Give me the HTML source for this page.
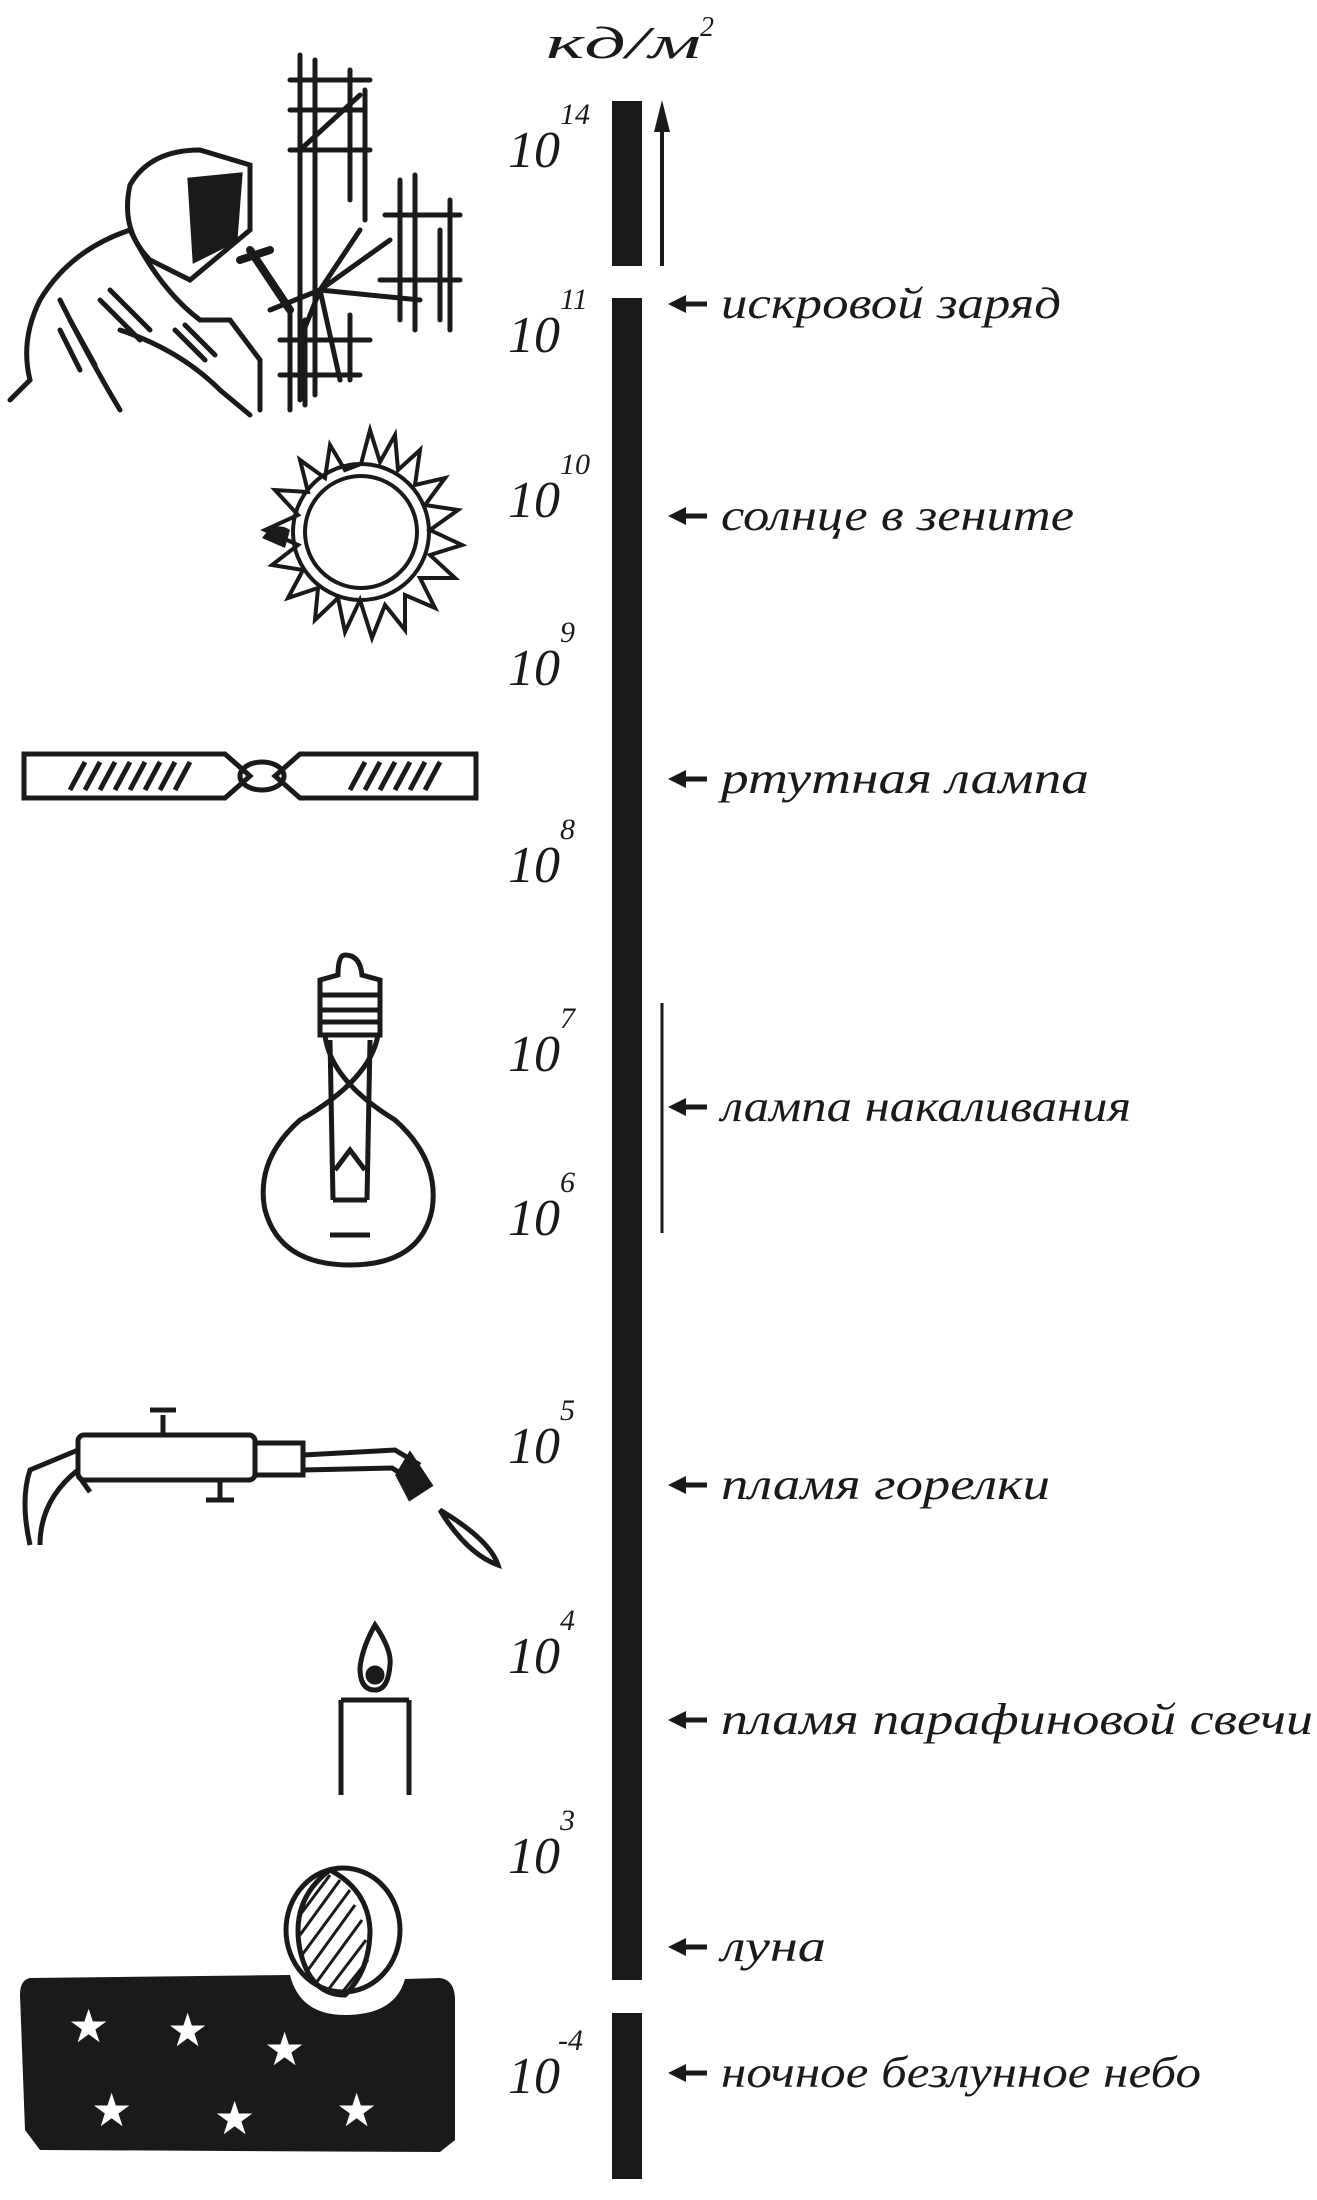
<!DOCTYPE html>
<html><head><meta charset="utf-8"><style>
html,body{margin:0;padding:0;background:#fff}
svg{display:block}
text{font-family:"Liberation Serif",serif;font-style:italic;fill:#1a1a1a}
</style></head><body>
<svg width="1317" height="2200" viewBox="0 0 1317 2200" xmlns="http://www.w3.org/2000/svg">
<!-- unit -->
<text x="546" y="58" font-size="46" textLength="155" lengthAdjust="spacingAndGlyphs">кд/м</text>
<text x="700" y="36" font-size="28">2</text>
<!-- bars -->
<rect x="612" y="101" width="30" height="165" fill="#1a1a1a"/>
<rect x="612" y="298" width="30" height="1682" fill="#1a1a1a"/>
<rect x="612" y="2013" width="30" height="166" fill="#1a1a1a"/>
<!-- up arrow -->
<line x1="662" y1="266" x2="662" y2="130" stroke="#1a1a1a" stroke-width="4"/>
<path d="M654,132 L662,100 L670,132 Z" fill="#1a1a1a"/>
<!-- bracket line -->
<line x1="662" y1="1003" x2="662" y2="1233" stroke="#1a1a1a" stroke-width="3"/>
<!-- exponents -->
<g font-size="52">
<text x="508" y="167">10</text><text x="560" y="124" font-size="30">14</text>
<text x="508" y="352">10</text><text x="560" y="309" font-size="30">11</text>
<text x="508" y="517">10</text><text x="560" y="474" font-size="30">10</text>
<text x="508" y="685">10</text><text x="560" y="642" font-size="30">9</text>
<text x="508" y="882">10</text><text x="560" y="839" font-size="30">8</text>
<text x="508" y="1071">10</text><text x="560" y="1028" font-size="30">7</text>
<text x="508" y="1235">10</text><text x="560" y="1192" font-size="30">6</text>
<text x="508" y="1463">10</text><text x="560" y="1420" font-size="30">5</text>
<text x="508" y="1673">10</text><text x="560" y="1630" font-size="30">4</text>
<text x="508" y="1873">10</text><text x="560" y="1830" font-size="30">3</text>
<text x="508" y="2093">10</text><text x="558" y="2050" font-size="30">-4</text>
</g>
<!-- arrows + labels -->
<g stroke="#1a1a1a" stroke-width="5">
<line x1="707" y1="304" x2="682" y2="304"/><line x1="707" y1="516" x2="682" y2="516"/>
<line x1="707" y1="779" x2="682" y2="779"/><line x1="707" y1="1107" x2="682" y2="1107"/>
<line x1="707" y1="1485" x2="682" y2="1485"/><line x1="707" y1="1720" x2="682" y2="1720"/>
<line x1="707" y1="1947" x2="682" y2="1947"/><line x1="707" y1="2073" x2="682" y2="2073"/>
</g>
<g fill="#1a1a1a">
<path d="M668,304 L686,295 L686,313Z"/><path d="M668,516 L686,507 L686,525Z"/>
<path d="M668,779 L686,770 L686,788Z"/><path d="M668,1107 L686,1098 L686,1116Z"/>
<path d="M668,1485 L686,1476 L686,1494Z"/><path d="M668,1720 L686,1711 L686,1729Z"/>
<path d="M668,1947 L686,1938 L686,1956Z"/><path d="M668,2073 L686,2064 L686,2082Z"/>
</g>
<g font-size="44">
<text x="721" y="318" textLength="340" lengthAdjust="spacingAndGlyphs">искровой заряд</text>
<text x="721" y="530" textLength="353" lengthAdjust="spacingAndGlyphs">солнце в зените</text>
<text x="721" y="793" textLength="368" lengthAdjust="spacingAndGlyphs">ртутная лампа</text>
<text x="721" y="1121" textLength="410" lengthAdjust="spacingAndGlyphs">лампа накаливания</text>
<text x="721" y="1499" textLength="329" lengthAdjust="spacingAndGlyphs">пламя горелки</text>
<text x="721" y="1734" textLength="592" lengthAdjust="spacingAndGlyphs">пламя парафиновой свечи</text>
<text x="721" y="1961" textLength="105" lengthAdjust="spacingAndGlyphs">луна</text>
<text x="721" y="2087" textLength="480" lengthAdjust="spacingAndGlyphs">ночное безлунное небо</text>
</g>
<!-- welder (rough) -->
<g stroke="#1a1a1a" stroke-width="5" fill="none" stroke-linecap="round">
<path d="M300,55 V400 M315,60 V395 M290,80 H370 M290,150 H370 M290,110 H365 M350,70 V200 M365,90 V220 M300,150 L360,95"/>
<path d="M400,180 V320 M415,175 V330 M385,215 H460 M380,280 H460 M450,200 V330 M440,230 V320"/>
<path d="M290,310 V410 M305,320 V405 M280,340 H370 M280,375 H360 M350,315 V380"/>
<path d="M320,290 L390,240 M320,290 L300,340 M320,290 L420,300 M320,290 L340,380 M320,290 L360,230 M320,290 L270,310"/>
<path d="M130,185 Q150,150 200,150 L250,165 L250,230 L190,280 L150,260 Q120,230 130,185Z"/>
<path d="M190,180 L240,175 L235,240 L195,260Z" fill="#1a1a1a"/>
<path d="M130,230 Q70,250 40,300 Q20,340 30,380 L10,400 M130,230 Q160,290 200,320 L230,320 L260,360 L260,410 M60,300 Q90,360 120,410 M120,330 Q180,350 220,390 L250,415"/>
<path d="M250,250 L290,310 M240,260 L270,250" stroke-width="8"/>
<path d="M100,300 L140,340 M110,290 L150,330 M60,330 L80,370 M70,320 L95,365 M175,330 L205,360 M185,325 L215,355"/>
</g>
<!-- sun -->
<g stroke="#1a1a1a" stroke-width="4" fill="none">
<circle cx="361" cy="532" r="56"/>
<circle cx="361" cy="532" r="68"/>
<path d="M361,464 L370,430 L380,462 L395,435 L398,470 L420,450 L415,485 L445,478 L425,505 L458,510 L430,530 L462,545 L430,555 L455,578 L420,578 L435,608 L405,595 L405,630 L385,605 L372,638 L360,600 L345,632 L338,598 L315,620 L318,588 L288,598 L303,570 L272,565 L298,545 L265,530 L298,515 L275,490 L308,492 L300,460 L325,478 L330,445 L345,470 Z"/>
</g>
<path d="M262,538 Q275,520 290,530 L285,548Z" fill="#1a1a1a"/>
<!-- mercury lamp -->
<g stroke="#1a1a1a" stroke-width="5" fill="none">
<path d="M24,754 H225 L250,776 L225,798 H24 Z"/>
<path d="M476,754 H300 L275,776 L300,798 H476 Z"/>
<ellipse cx="262" cy="776" rx="22" ry="14"/>
</g>
<g stroke="#1a1a1a" stroke-width="5">
<path d="M70,790 L85,762 M85,790 L100,762 M100,790 L115,762 M115,790 L130,762 M130,790 L145,762 M145,790 L160,762 M160,790 L175,762 M175,790 L190,762"/>
<path d="M350,790 L365,762 M365,790 L380,762 M380,790 L395,762 M395,790 L410,762 M410,790 L425,762 M425,790 L440,762"/>
</g>
<!-- bulb -->
<g stroke="#1a1a1a" stroke-width="5" fill="none">
<path d="M345,955 Q360,955 362,975 L380,980 V1035 L320,1035 V980 L338,975 Q338,955 345,955Z"/>
<path d="M320,995 H382 M320,1010 H382 M320,1022 H382"/>
<path d="M325,1035 Q330,1080 395,1120 Q440,1160 432,1210 Q420,1265 350,1265 Q280,1265 265,1210 Q255,1160 300,1120 Q370,1080 378,1035"/>
<path d="M330,1040 L333,1200 M370,1040 L367,1200 M333,1200 H367 M335,1170 L350,1150 L365,1170 M330,1235 L370,1235"/>
</g>
<!-- torch -->
<g stroke="#1a1a1a" stroke-width="5" fill="none">
<rect x="78" y="1435" width="177" height="45" rx="6"/>
<rect x="255" y="1443" width="48" height="32"/>
<path d="M303,1455 L395,1450 L420,1465 M303,1470 L392,1468 L408,1478"/>
<path d="M410,1455 L430,1485 L410,1498 L398,1475Z" fill="#1a1a1a"/>
<path d="M440,1510 Q490,1540 498,1565 Q470,1555 445,1518Z"/>
<path d="M163,1435 V1415 M150,1410 H176 M220,1480 V1498 M206,1500 H234"/>
<path d="M78,1450 L30,1470 Q20,1500 30,1545 M78,1470 Q40,1500 40,1545 M78,1475 L90,1492"/>
</g>
<!-- candle -->
<g stroke="#1a1a1a" stroke-width="5" fill="none">
<path d="M341,1700 V1795 M409,1700 V1795 M341,1700 H409"/>
<path d="M375,1625 Q392,1650 390,1665 Q388,1690 375,1690 Q360,1690 360,1668 Q362,1648 375,1625Z"/>
<circle cx="375" cy="1675" r="7" fill="#1a1a1a"/>
</g>
<!-- night sky -->
<path d="M30,1978 Q20,1980 20,1995 L25,2130 L40,2150 L440,2152 L455,2140 L455,2000 Q455,1980 440,1978 L405,1979 Q395,2015 345,2015 Q300,2015 290,1975 Z" fill="#1a1a1a"/>
<g font-size="46">
<text x="68" y="2042" style="fill:#fff;font-style:normal">★</text>
<text x="167" y="2046" style="fill:#fff;font-style:normal">★</text>
<text x="264" y="2065" style="fill:#fff;font-style:normal">★</text>
<text x="91" y="2126" style="fill:#fff;font-style:normal">★</text>
<text x="214" y="2134" style="fill:#fff;font-style:normal">★</text>
<text x="336" y="2126" style="fill:#fff;font-style:normal">★</text>
</g>
<!-- moon -->
<g stroke="#1a1a1a" stroke-width="5" fill="none">
<ellipse cx="343" cy="1930" rx="57" ry="62"/>
<path d="M330,1870 Q290,1900 300,1950 Q310,1995 345,1995 Q370,1970 370,1930 Q368,1890 330,1870Z"/>
</g>
<g stroke="#1a1a1a" stroke-width="3">
<path d="M300,1915 L330,1875 M300,1935 L340,1880 M302,1955 L350,1890 M308,1970 L355,1905 M316,1983 L362,1920 M328,1990 L366,1940 M340,1995 L368,1960"/>
</g>
</svg>
</body></html>
